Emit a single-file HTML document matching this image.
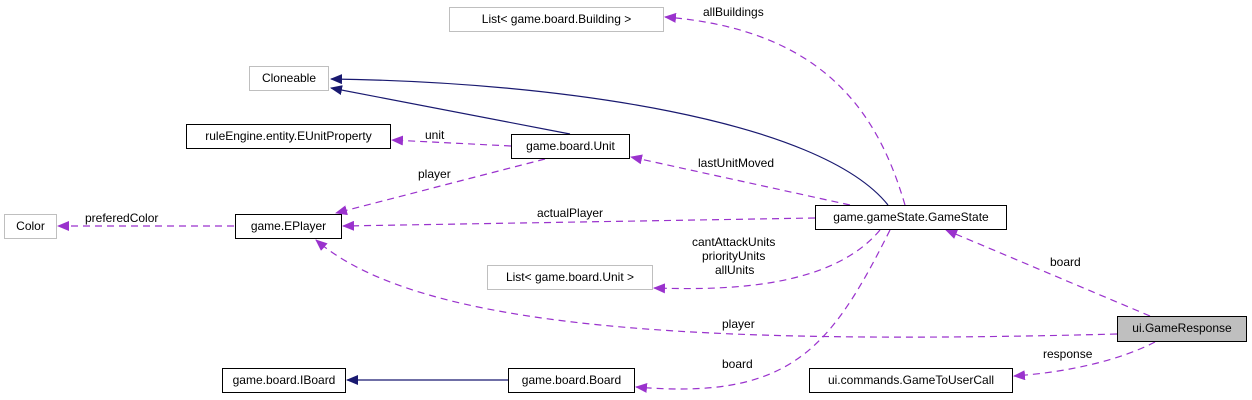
<!DOCTYPE html>
<html><head><meta charset="utf-8"><style>
body{margin:0;background:#fff;width:1252px;height:400px;overflow:hidden;position:relative;font-family:"Liberation Sans",sans-serif;font-size:12px;}
.n{position:absolute;box-sizing:border-box;border:1px solid #000;background:#fff;text-align:center;line-height:23px;white-space:nowrap;color:#000;}
.g{border-color:#bfbfbf;}
.l{position:absolute;white-space:nowrap;font-size:12px;line-height:13px;color:#000;}
svg{position:absolute;left:0;top:0;}
</style></head><body>
<svg width="1252" height="400">
<defs>
<marker id="p" markerWidth="12" markerHeight="10" refX="11" refY="5" orient="auto" markerUnits="userSpaceOnUse"><path d="M0,0 L12,5 L0,10 z" fill="#9a32cd"/></marker>
<marker id="b" markerWidth="12" markerHeight="10" refX="11" refY="5" orient="auto" markerUnits="userSpaceOnUse"><path d="M0,0 L12,5 L0,10 z" fill="#191970"/></marker>
</defs>
<g fill="none" stroke="#9a32cd" stroke-width="1.2" stroke-dasharray="7,5">
<path d="M905,205 C880,120 830,30 665,17" marker-end="url(#p)"/>
<path d="M511,146 L392,140" marker-end="url(#p)"/>
<path d="M850,205 L631,157" marker-end="url(#p)"/>
<path d="M545,159 L336,213" marker-end="url(#p)"/>
<path d="M234,226 L58,226" marker-end="url(#p)"/>
<path d="M815,218 L343,226" marker-end="url(#p)"/>
<path d="M880,230 C830,290 720,290 654,288" marker-end="url(#p)"/>
<path d="M890,230 C830,350 790,400 636,387" marker-end="url(#p)"/>
<path d="M1150,316 L946,230" marker-end="url(#p)"/>
<path d="M1117,334 C700,345 420,330 316,240" marker-end="url(#p)"/>
<path d="M1155,342 C1120,360 1070,372 1014,376" marker-end="url(#p)"/>
</g>
<g fill="none" stroke="#191970" stroke-width="1.2">
<path d="M888,205 C820,120 560,82 331,79" marker-end="url(#b)"/>
<path d="M570,134 L331,88" marker-end="url(#b)"/>
<path d="M508,380 L347,380" marker-end="url(#b)"/>
</g>
</svg>
<div class="n g" style="left:449px;top:7px;width:215px;height:25px;">List&lt; game.board.Building &gt;</div>
<div class="n g" style="left:249px;top:66px;width:80px;height:25px;">Cloneable</div>
<div class="n" style="left:186px;top:124px;width:205px;height:25px;">ruleEngine.entity.EUnitProperty</div>
<div class="n" style="left:511px;top:134px;width:119px;height:25px;">game.board.Unit</div>
<div class="n g" style="left:4px;top:214px;width:53px;height:25px;">Color</div>
<div class="n" style="left:235px;top:214px;width:107px;height:25px;">game.EPlayer</div>
<div class="n" style="left:815px;top:205px;width:192px;height:25px;">game.gameState.GameState</div>
<div class="n g" style="left:487px;top:265px;width:166px;height:25px;">List&lt; game.board.Unit &gt;</div>
<div class="n" style="left:1117px;top:316px;width:130px;height:26px;background:#bfbfbf;">ui.GameResponse</div>
<div class="n" style="left:222px;top:368px;width:124px;height:25px;">game.board.IBoard</div>
<div class="n" style="left:508px;top:368px;width:127px;height:25px;">game.board.Board</div>
<div class="n" style="left:809px;top:368px;width:204px;height:25px;">ui.commands.GameToUserCall</div>
<div class="l" style="left:703px;top:6px;">allBuildings</div>
<div class="l" style="left:425px;top:129px;">unit</div>
<div class="l" style="left:698px;top:157px;">lastUnitMoved</div>
<div class="l" style="left:418px;top:168px;">player</div>
<div class="l" style="left:85px;top:212px;">preferedColor</div>
<div class="l" style="left:537px;top:207px;">actualPlayer</div>
<div class="l" style="left:692px;top:236px;">cantAttackUnits</div>
<div class="l" style="left:702px;top:250px;">priorityUnits</div>
<div class="l" style="left:715px;top:264px;">allUnits</div>
<div class="l" style="left:1050px;top:256px;">board</div>
<div class="l" style="left:722px;top:318px;">player</div>
<div class="l" style="left:722px;top:358px;">board</div>
<div class="l" style="left:1043px;top:348px;">response</div>
</body></html>
